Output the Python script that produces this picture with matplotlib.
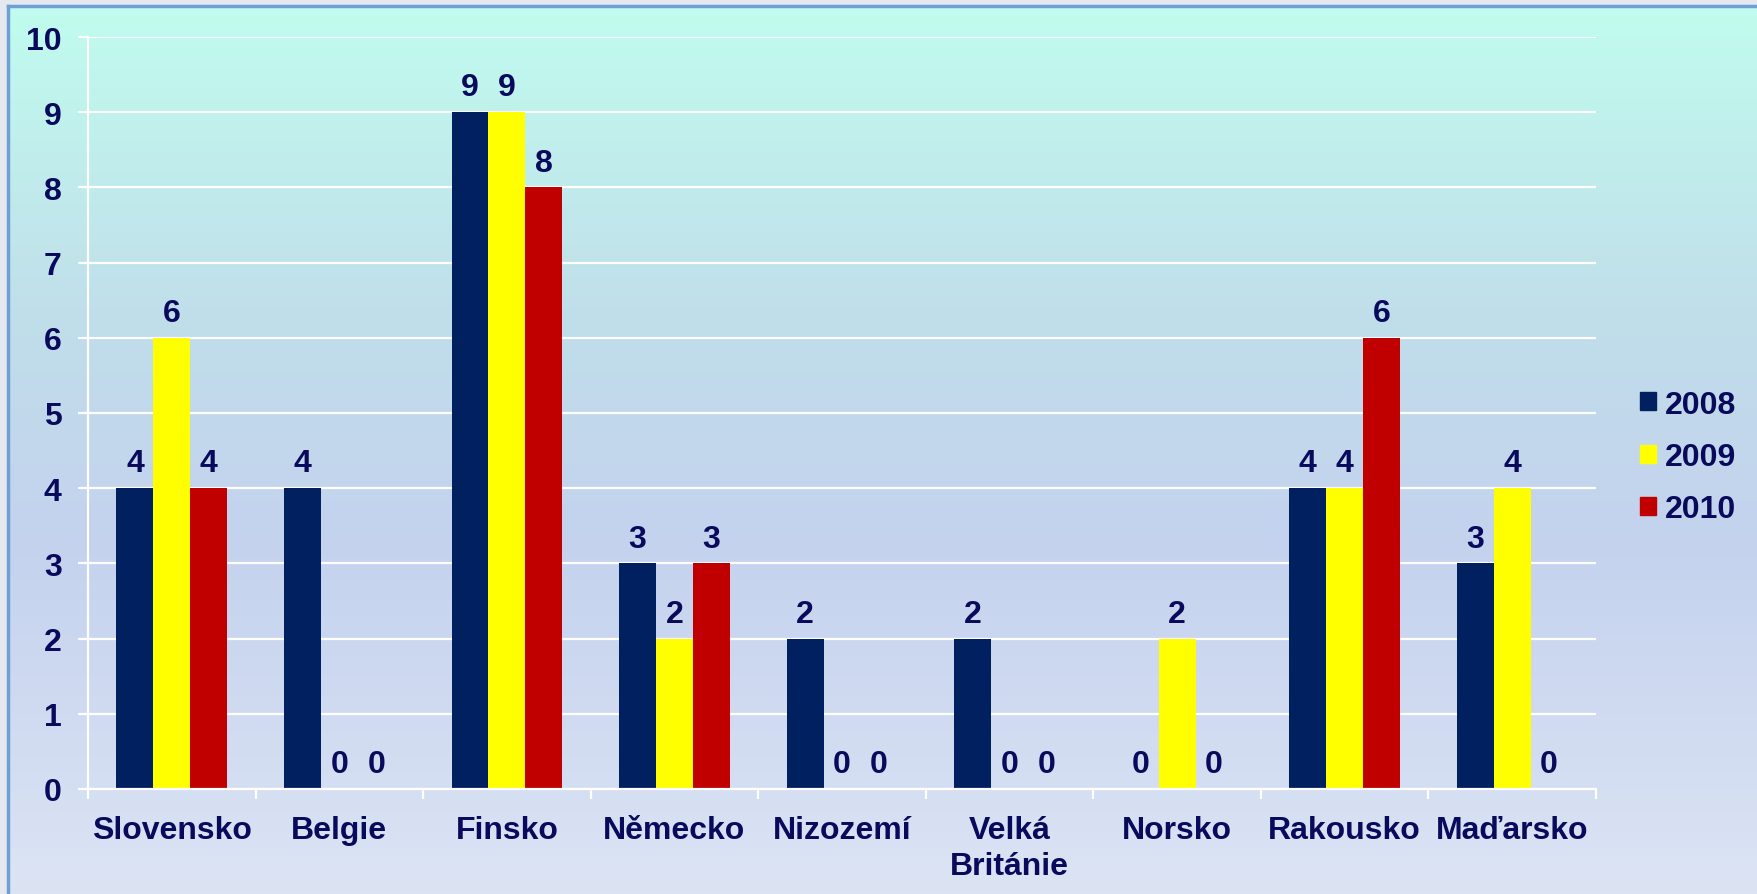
import numpy as np
import matplotlib
matplotlib.use("Agg")
import matplotlib.pyplot as plt
from matplotlib.colors import LinearSegmentedColormap
from matplotlib.patches import Patch

countries = ["Slovensko", "Belgie", "Finsko", "Německo", "Nizozemí",
             "Velká\nBritánie", "Norsko", "Rakousko", "Maďarsko"]
years = ["2008", "2009", "2010"]
v2008 = [4, 4, 9, 3, 2, 2, 0, 4, 3]
v2009 = [6, 0, 9, 2, 0, 0, 2, 4, 4]
v2010 = [4, 0, 8, 3, 0, 0, 0, 6, 0]
yticks = list(range(0, 11))

bar_colors = ["#002060", "#FFFF00", "#C00000"]
txt = "#0A0A5C"
fs = 23
plt.rcParams['font.family'] = ['Liberation Sans', 'DejaVu Sans']
plt.rcParams['font.weight'] = 'bold'

W, H = 1758, 895
fig = plt.figure(figsize=(W / 100, H / 100), dpi=100)
fig.patch.set_facecolor("#E6E8F0")

# background gradient panel
bg = fig.add_axes([8 / W, 0, 1 - 8 / W, 1 - 7 / H])
cmap = LinearSegmentedColormap.from_list(
    "bg", [(0, "#C0FCEE"), (0.35, "#C0DEEA"), (0.6, "#C4D2EE"), (1, "#DCE4F4")])
bg.imshow(np.linspace(0, 1, 256).reshape(-1, 1), aspect="auto", cmap=cmap,
          extent=[0, 1, 0, 1])
bg.set_xticks([])
bg.set_yticks([])
for s in ["right", "bottom"]:
    bg.spines[s].set_visible(False)
for s in ["left", "top"]:
    bg.spines[s].set_color("#6EA0D6")
    bg.spines[s].set_linewidth(2.5)

ax = fig.add_axes([88 / W, 1 - 790 / H, (1596 - 88) / W, (790 - 38) / H])
ax.set_facecolor("none")
x = np.arange(len(countries))
w = 0.22
for i, vals in enumerate([v2008, v2009, v2010]):
    bars = ax.bar(x + (i - 1) * w, vals, w, color=bar_colors[i], label=years[i], zorder=3)
    ax.bar_label(bars, padding=7, fontsize=fs, color=txt, fontweight='bold')

ax.set_xlim(-0.5, len(countries) - 0.5)
ax.set_ylim(0, 10)
ax.set_yticks(yticks)
ax.yaxis.grid(True, color="white", linewidth=1.6, zorder=1)
ax.set_xticks(x)
ax.set_xticklabels(countries, fontsize=fs, color=txt, fontweight='bold', linespacing=1.25)
ax.set_xticks(np.arange(-0.5, len(countries), 1), minor=True)
ax.tick_params(axis='x', which='major', length=0, pad=19)
ax.tick_params(axis='x', which='minor', length=7, width=1.6, color="white", direction='out')
ax.tick_params(axis='y', length=7, width=1.6, color="white", pad=12, labelsize=fs,
               labelcolor=txt)
for lab in ax.get_yticklabels():
    lab.set_fontweight('bold')
for s in ["top", "right"]:
    ax.spines[s].set_visible(False)
for s in ["left", "bottom"]:
    ax.spines[s].set_color("white")
    ax.spines[s].set_linewidth(1.6)
    ax.spines[s].set_zorder(4)

handles = [Patch(color=c) for c in bar_colors]
leg = fig.legend(handles, years, loc="center left", bbox_to_anchor=(1611 / W, 1 - 458 / H),
                 frameon=False, fontsize=fs, handlelength=0.5, handleheight=0.5,
                 handletextpad=0.28, labelspacing=0.7)
for t in leg.get_texts():
    t.set_color(txt)
    t.set_fontweight('bold')

fig.savefig("out.png", dpi=100)
